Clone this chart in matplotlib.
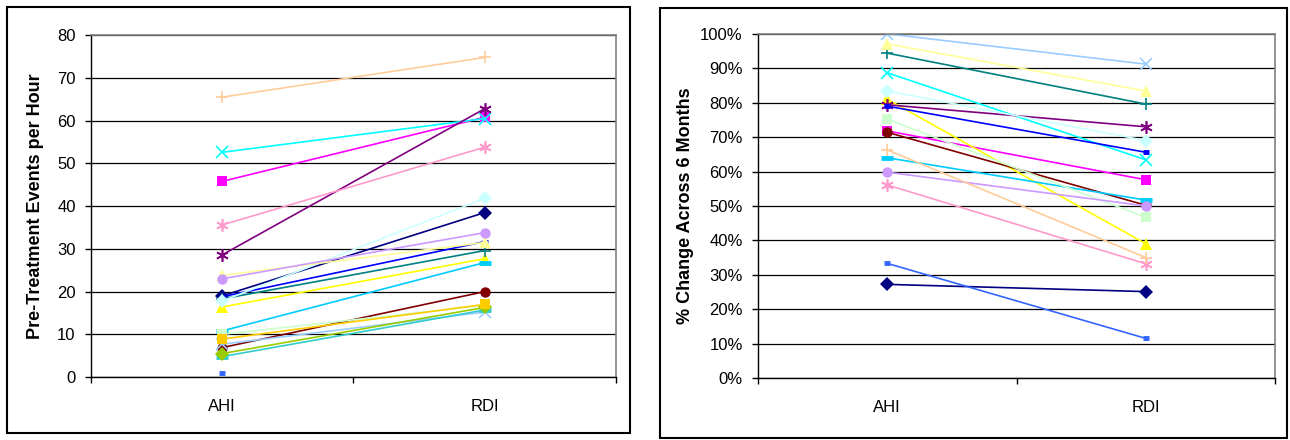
import numpy as np
import matplotlib
matplotlib.use("Agg")
import matplotlib.pyplot as plt
from matplotlib.patches import Rectangle
from matplotlib.ticker import PercentFormatter, MultipleLocator

plt.rcParams['font.family'] = ['Liberation Sans', 'DejaVu Sans']

categories = ["AHI", "RDI"]

# one entry per subject (Excel default series colours / markers)
colors = ["#000080", "#FF00FF", "#FFFF00", "#00FFFF", "#800080", "#800000",
          "#008080", "#0000FF", "#00CCFF", "#CCFFFF", "#CCFFCC", "#FFFF99",
          "#99CCFF", "#FF99CC", "#CC99FF", "#FFCC99", "#3366FF", "#33CCCC",
          "#99CC00", "#FFCC00"]
markers = ["D", "s", "^", "x", "star", "o", "+", "dash", "bar", "D", "s", "^",
           "x", "star", "o", "+", "dash", "bar", "D", "s"]

# pre-treatment events per hour
events_ahi = [19.0, 45.8, 16.4, 52.6, 28.6, 6.9, 18.3, 18.8, 10.8, 17.8, 10.0,
              23.8, 7.7, 35.6, 23.0, 65.5, 1.0, 4.8, 5.5, 8.9]
events_rdi = [38.5, 60.8, 27.7, 60.5, 62.8, 20.0, 29.6, 31.7, 26.8, 41.8, 16.8,
              31.5, 15.2, 53.8, 33.8, 74.8, np.nan, 15.7, 16.3, 17.0]

# % change across 6 months
change_ahi = [27.2, 71.8, 81.0, 88.7, 79.4, 71.4, 94.4, 79.0, 64.0, 83.4, 75.2,
              97.1, 100.0, 56.1, 59.8, 66.3, 33.3, np.nan, np.nan, np.nan]
change_rdi = [25.1, 57.6, 39.0, 63.4, 73.0, 50.2, 79.6, 65.6, 51.7, 69.0, 46.7,
              83.4, 91.2, 33.2, 50.0, 35.0, 11.5, np.nan, np.nan, np.nan]


def marker_style(m):
    if m == "star":
        return dict(marker=(6, 2, 0), markersize=9, markeredgewidth=1.2)
    if m == "dash":
        return dict(marker="_", markersize=5, markeredgewidth=3.5)
    if m == "bar":
        return dict(marker="_", markersize=8, markeredgewidth=3.5)
    if m in ("x", "+"):
        return dict(marker=m, markersize=8.5, markeredgewidth=1.2)
    if m == "^":
        return dict(marker=m, markersize=8.5, markeredgewidth=0)
    return dict(marker=m, markersize=7.5, markeredgewidth=0)


def draw(ax, a, b, ymax, ylabel):
    x = np.arange(len(categories))
    for i in range(len(colors)):
        ax.plot(x, [a[i], b[i]], color=colors[i], lw=1.2,
                markerfacecolor=colors[i], markeredgecolor=colors[i],
                **marker_style(markers[i]))
    ax.set_xlim(-0.5, 1.5)
    ax.set_ylim(0, ymax)
    ax.yaxis.set_major_locator(MultipleLocator(10))
    ax.yaxis.grid(True, color="black", lw=0.9)
    ax.set_axisbelow(True)
    ax.set_xticks(x)
    ax.set_xticklabels(categories)
    ax.set_xticks([-0.5, 0.5, 1.5], minor=True)
    ax.tick_params(axis="x", which="major", length=0, pad=16, labelsize=12)
    ax.tick_params(axis="x", which="minor", length=4, width=1, direction="out")
    ax.tick_params(axis="y", length=4, width=1, direction="out", pad=7,
                   labelsize=12)
    for s in ("top", "right"):
        ax.spines[s].set_color("#808080")
        ax.spines[s].set_linewidth(1.2)
    for s in ("left", "bottom"):
        ax.spines[s].set_color("black")
        ax.spines[s].set_linewidth(1.0)
    ax.set_ylabel(ylabel, fontsize=13, fontweight="bold")


fig = plt.figure(figsize=(12.9, 4.4), dpi=100)

ax1 = fig.add_axes([0.0705, 0.143, 0.407, 0.777])
draw(ax1, events_ahi, events_rdi, 80, "Pre-Treatment Events per Hour")
ax1.yaxis.set_label_coords(-0.09, 0.5)

ax2 = fig.add_axes([0.5876, 0.141, 0.4008, 0.782])
draw(ax2, change_ahi, change_rdi, 100, "% Change Across 6 Months")
ax2.yaxis.set_major_formatter(PercentFormatter(decimals=0))
ax2.yaxis.set_label_coords(-0.124, 0.5)

# chart area borders
fig.patches.append(Rectangle((0.0054, 0.016), 0.483, 0.968, transform=fig.transFigure,
                             fill=False, edgecolor="black", lw=1.5))
fig.patches.append(Rectangle((0.5116, 0.005), 0.486, 0.977, transform=fig.transFigure,
                             fill=False, edgecolor="black", lw=1.5))

fig.savefig("out.png", dpi=100)
